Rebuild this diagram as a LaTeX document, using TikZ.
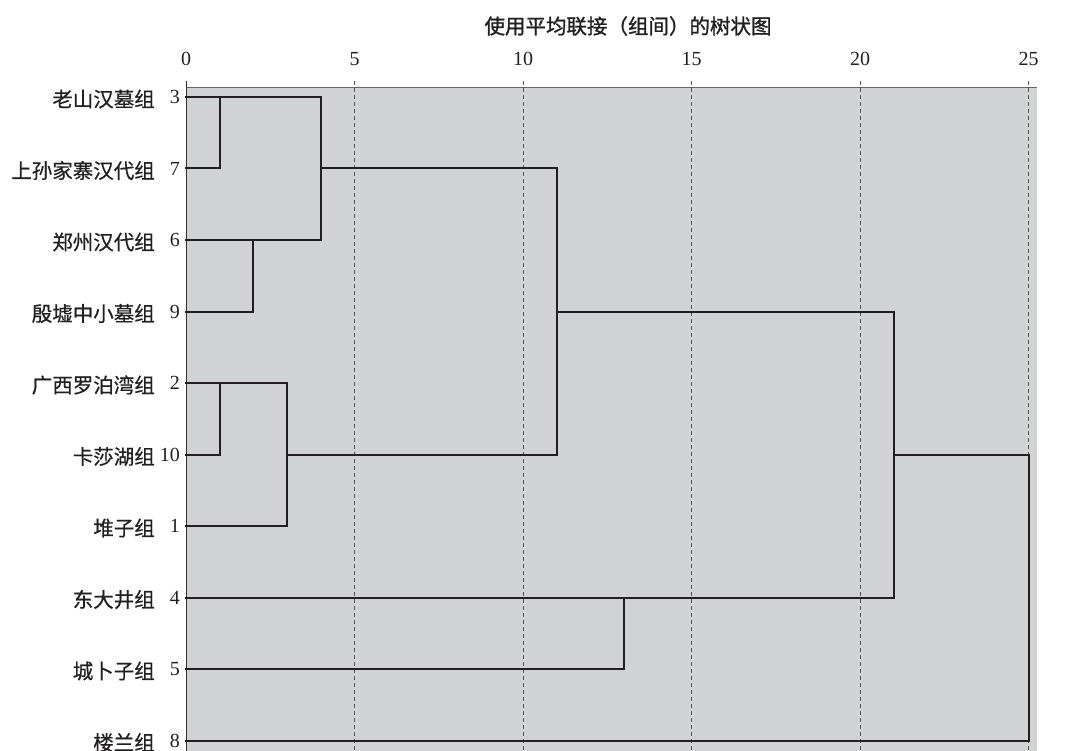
\documentclass[tikz,border=0pt]{standalone}
\usepackage{fontspec}
\setmainfont{Liberation Serif}
\newfontfamily\cjk[FakeBold=0.6]{Noto Sans CJK SC}
\newfontfamily\cjkt[FakeBold=1.2]{Noto Sans CJK SC}
\definecolor{plotgray}{HTML}{D1D2D4}
\definecolor{ink}{HTML}{231F20}
\definecolor{gridc}{HTML}{555555}
\begin{document}
\begin{tikzpicture}[x=1pt,y=-1pt,
  lab/.style={anchor=east,inner sep=0pt,font=\cjk\fontsize{20.5}{22}\selectfont,text=ink},
  num/.style={anchor=east,inner sep=0pt,font=\fontsize{20}{22}\selectfont,text=ink},
  tick/.style={anchor=center,inner sep=0pt,font=\fontsize{20}{22}\selectfont,text=ink},
  branch/.style={draw=ink,line width=2pt,line cap=rect},
  grid/.style={draw=gridc,line width=0.8pt,dash pattern=on 4pt off 3pt}]
\useasboundingbox (0,0) rectangle (1065,751);
% plot area
\fill[plotgray] (186,87) rectangle (1037,751);
\draw[draw=gray!80!black,line width=0.8pt] (186,87) -- (1037,87);
\draw[draw=gray!40!black,line width=0.9pt] (186,81) -- (186,751);
% grid and ticks
\foreach \v in {5,10,15,20,25}{
  \draw[grid] ({186+33.7*\v},81) -- ({186+33.7*\v},751);
}
\foreach \v in {0,5,10,15,20,25}{
  \node[tick] (t\v) at ({186+33.7*\v},59) {\v};
}
% title
\node[inner sep=0pt,font=\cjkt\fontsize{20.5}{22}\selectfont,text=ink] (title) at (628,26) {使用平均联接（组间）的树状图};
% leaves
\foreach \id/\name/\i in {3/老山汉墓组/0,7/上孙家寨汉代组/1,6/郑州汉代组/2,9/殷墟中小墓组/3,2/广西罗泊湾组/4,10/卡莎湖组/5,1/堆子组/6,4/东大井组/7,5/城卜子组/8,8/楼兰组/9}{
  \coordinate (l\id) at (186,{97+71.5*\i});
  \node[lab] (n\id) at (155,{99+71.5*\i}) {\name};
  \node[num] (k\id) at (180,{97+71.5*\i}) {\id};
}
% merge x positions
\def\dx#1{{186+33.7*#1}}
\coordinate (a) at (\dx{1},0);
\coordinate (b) at (\dx{2},0);
\coordinate (c) at (\dx{3},0);
\coordinate (d) at (\dx{4},0);
\coordinate (e) at (\dx{11},0);
\coordinate (f) at (\dx{13},0);
\coordinate (g) at (\dx{21},0);
\coordinate (h) at (\dx{25},0);
% dendrogram
\draw[branch] (l7) -- (l7 -| a) -- (l3 -| a);
\draw[branch] (l3) -- (l3 -| d) -- (l6 -| d) -- (l6);
\draw[branch] (l9) -- (l9 -| b) -- (l6 -| b);
\draw[branch] (l10) -- (l10 -| a) -- (l2 -| a);
\draw[branch] (l2) -- (l2 -| c) -- (l1 -| c) -- (l1);
\draw[branch] (l7 -| d) -- (l7 -| e) -- (l10 -| e) -- (l10 -| c);
\draw[branch] (l5) -- (l5 -| f) -- (l4 -| f);
\draw[branch] (l4) -- (l4 -| g) -- (l9 -| g) -- (l9 -| e);
\draw[branch] (l10 -| g) -- (l10 -| h) -- (l8 -| h) -- (l8);
\end{tikzpicture}
\end{document}
